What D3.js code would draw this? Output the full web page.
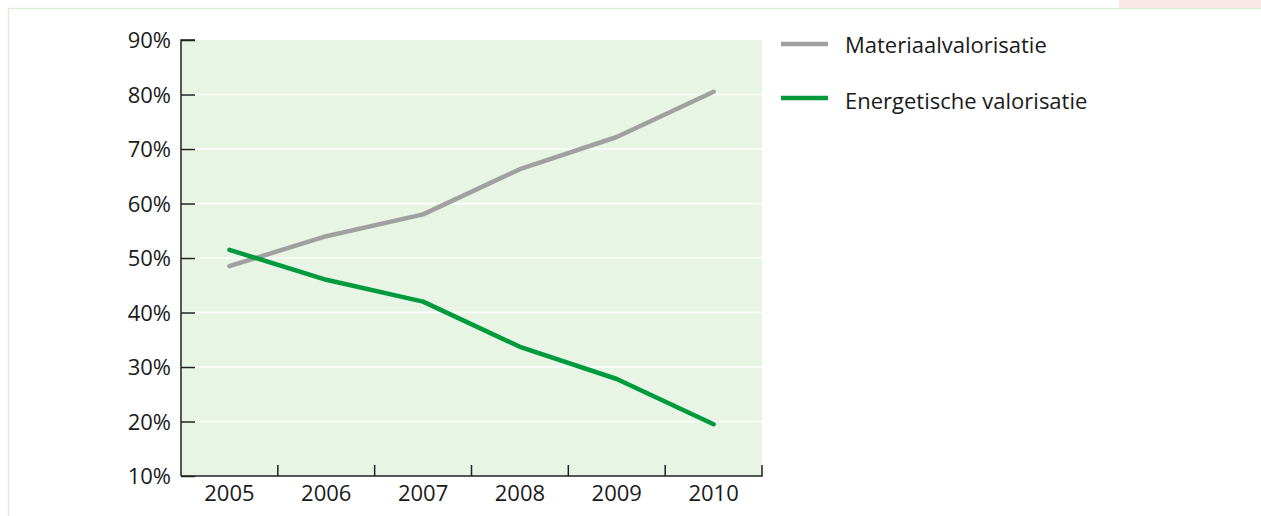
<!DOCTYPE html>
<html><head><meta charset="utf-8">
<script src="https://cdn.jsdelivr.net/npm/d3@7"></script>
<style>body{margin:0;background:#fff;overflow:hidden}svg{display:block;font-family:"Open Sans",sans-serif}</style>
</head><body>
<script>
const years = ["2005","2006","2007","2008","2009","2010"];
const materiaal = [48.5, 54.0, 58.0, 66.3, 72.2, 80.5];
const energetisch = [51.5, 46.0, 42.0, 33.7, 27.8, 19.5];
const yTicks = [10,20,30,40,50,60,70,80,90];
const seriesNames = ["Materiaalvalorisatie","Energetische valorisatie"];
const seriesColors = ["#a0a0a0","#009a3e"];

const W=1261,H=516;
const svg=d3.select("body").append("svg").attr("width",W).attr("height",H);
// frame
svg.append("rect").attr("x",1119).attr("y",0).attr("width",142).attr("height",8).attr("fill","#f9e7e5");
svg.append("rect").attr("x",8.5).attr("y",8.5).attr("width",1300).attr("height",600).attr("fill","none").attr("stroke","#d9eed5").attr("stroke-width",1.5);

const L=181,R=762,T=40,B=476;
const x=d3.scaleBand().domain(years).range([L,R]);
const y=d3.scaleLinear().domain([10,90]).range([B,T]);
svg.append("rect").attr("x",L).attr("y",T).attr("width",R-L).attr("height",B-T).attr("fill","#e8f4e4");
svg.selectAll(".grid").data(yTicks.slice(1,-1)).enter().append("line")
 .attr("x1",L).attr("x2",R).attr("y1",d=>y(d)).attr("y2",d=>y(d)).attr("stroke","#fff").attr("stroke-width",1.5);

const line=d3.line().x((d,i)=>x(years[i])+x.bandwidth()/2).y(d=>y(d));
[materiaal,energetisch].forEach((s,k)=>{
 svg.append("path").attr("d",line(s)).attr("fill","none").attr("stroke",seriesColors[k]).attr("stroke-width",4.5).attr("stroke-linecap","round").attr("stroke-linejoin","round");
});

// y axis
const ya=svg.append("g").attr("transform",`translate(${L},0)`).call(d3.axisRight(y).tickValues(yTicks).tickSize(14).tickFormat(""));
ya.select(".domain").attr("stroke","#222").attr("stroke-width",1.5).attr("d",`M14,${T}H0V${B}`);
ya.selectAll(".tick line").attr("stroke","#222").attr("stroke-width",1.5);
svg.selectAll(".ylab").data(yTicks).enter().append("text").attr("x",171).attr("y",d=>y(d)+8.3)
 .attr("text-anchor","end").attr("font-size",22).attr("fill","#1a1a1a").text(d=>d+"%");
// x axis
const xa=svg.append("g").attr("transform",`translate(0,${B})`).call(d3.axisBottom(x).tickSize(0).tickFormat(""));
xa.select(".domain").attr("stroke","#222").attr("stroke-width",1.5).attr("d",`M${L},0H${R}V-11`);
xa.selectAll(".tick").remove();
svg.selectAll(".xt").data(years.slice(1)).enter().append("line")
 .attr("x1",d=>x(d)).attr("x2",d=>x(d)).attr("y1",B).attr("y2",B-11).attr("stroke","#222").attr("stroke-width",1.5);
svg.selectAll(".xlab").data(years).enter().append("text").attr("x",d=>x(d)+x.bandwidth()/2).attr("y",500.7)
 .attr("text-anchor","middle").attr("font-size",22).attr("fill","#1a1a1a").text(d=>d);

// legend
seriesNames.forEach((n,k)=>{
 const ly=44+k*54;
 svg.append("line").attr("x1",781).attr("x2",828).attr("y1",ly).attr("y2",ly).attr("stroke",seriesColors[k]).attr("stroke-width",4.5);
 svg.append("text").attr("x",845).attr("y",53.4+k*55.6).attr("font-size",22).attr("fill","#1a1a1a").text(n);
});
</script>
</body></html>
